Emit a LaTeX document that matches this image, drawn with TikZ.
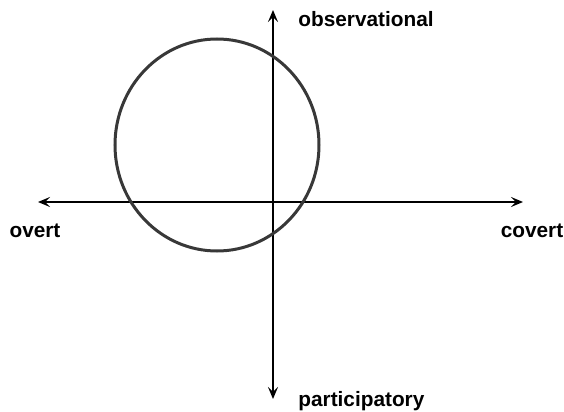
\documentclass[tikz,border=0pt]{standalone}
\usepackage{fontspec}
\setmainfont{Liberation Sans}
\usepackage{tikz}
\usetikzlibrary{arrows.meta, positioning}

\begin{document}
\begin{tikzpicture}[x=0.5pt, y=-0.5pt,
    axis/.style={line width=1pt, {Stealth[length=6pt, width=5pt, inset=2.5pt]}-{Stealth[length=6pt, width=5pt, inset=2.5pt]}},
    axislabel/.style={font=\fontsize{10.4}{12}\selectfont\bfseries, inner sep=0pt, anchor=base}]
    \useasboundingbox (0,0) rectangle (564,412);

    % Axis ends
    \coordinate (origin) at (273,202);
    \coordinate (left) at (38,202);
    \coordinate (right) at (523,202);
    \coordinate (top) at (273,10);
    \coordinate (bottom) at (273,399);

    % Draw the axes
    \draw[axis] (left) -- (right);
    \draw[axis] (bottom) -- (top);

    % Draw the circle
    \coordinate (centre) at (217,145);
    \draw[line width=1.5pt, black!78] (centre) ellipse [x radius=102, y radius=106];

    % Axis labels
    \node[axislabel] (overt) at (35,237) {overt};
    \node[axislabel] (covert) at (532,237) {covert};
    \node[axislabel, anchor=base west] (observational) at (298,26) {observational};
    \node[axislabel, anchor=base west] (participatory) at (298,407) {participatory};
\end{tikzpicture}
\end{document}
